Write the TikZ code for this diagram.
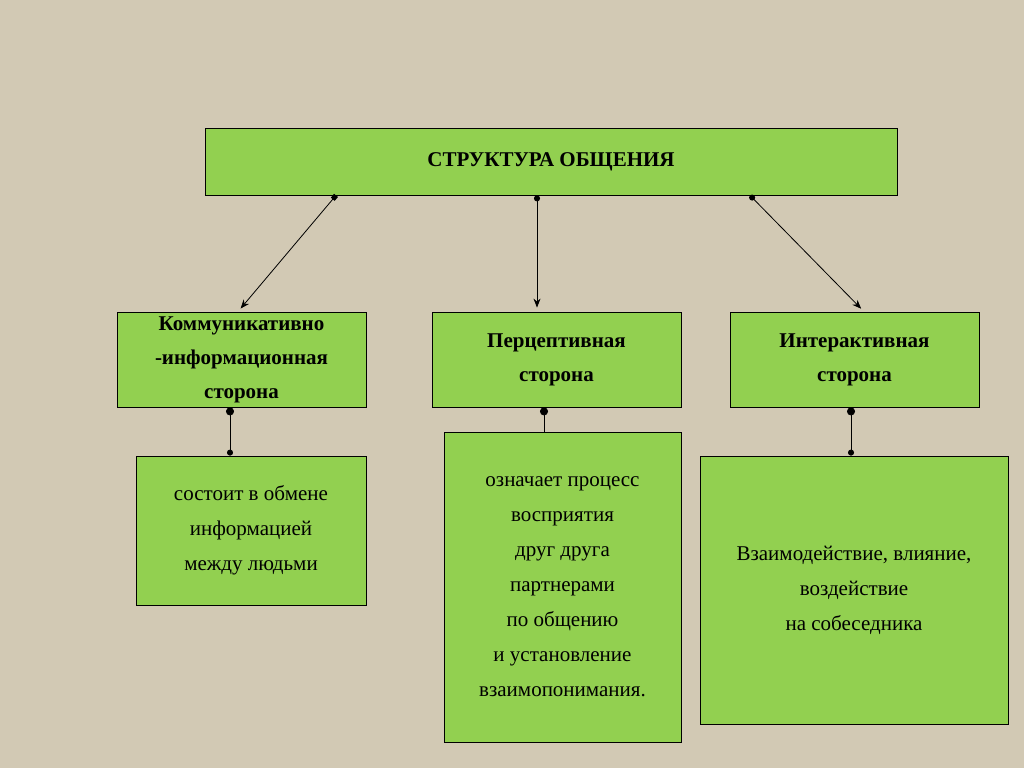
\documentclass[tikz,border=0pt]{standalone}
\usepackage{fontspec}
\setmainfont{Liberation Serif}
\usetikzlibrary{arrows.meta}
\definecolor{boxgreen}{HTML}{92D050}
\definecolor{canvas}{HTML}{D2C9B4}

\begin{document}
\begin{tikzpicture}[x=1pt,y=-1pt]
    \tikzstyle{blk}=[draw,thick,fill=boxgreen,align=center,inner sep=0pt]
    \tikzstyle{head}=[blk,font=\fontsize{21}{34}\selectfont\bfseries]
    \tikzstyle{body}=[blk,font=\fontsize{21}{35}\selectfont]
    \tikzstyle{link}=[thick,{Square[length=5pt,width=5pt]}-{Stealth[length=9pt,width=7pt]},shorten >=4pt]
    \fill[canvas] (0,0) rectangle (1024,768);
    \useasboundingbox (0,0) rectangle (1024,768);
    \node[head,minimum width=692pt,minimum height=67pt] (root) at (551,161.5) {СТРУКТУРА ОБЩЕНИЯ};
    \node[head,minimum width=249pt,minimum height=95pt] (comm) at (241.5,359.5) {Коммуникативно\\-информационная\\сторона};
    \node[head,minimum width=249pt,minimum height=95pt] (perc) at (556.5,359.5) {Перцептивная\\сторона};
    \node[head,minimum width=249pt,minimum height=95pt] (inter) at (854.5,359.5) {Интерактивная\\сторона};
    \node[body,minimum width=230pt,minimum height=149pt] (commtxt) at (251,530.5) {состоит в обмене\\информацией\\между людьми};
    \node[body,minimum width=237pt,minimum height=310pt] (perctxt) at (562.5,587) {означает процесс\\восприятия\\друг друга\\партнерами\\по общению\\и установление\\взаимопонимания.};
    \node[body,minimum width=308pt,minimum height=268pt] (intertxt) at (854,590) {Взаимодействие, влияние,\\воздействие\\на собеседника};

    \draw[link] ([xshift=-215pt]root.south) -- ([xshift=-3.5pt]comm.north);
    \draw[link,{Circle[length=6pt]}-{Stealth[length=9pt,width=7pt]}] ([xshift=-14pt]root.south) -- ([xshift=-19.5pt]perc.north);
    \draw[link,{Circle[length=6pt]}-{Stealth[length=9pt,width=7pt]}] ([xshift=199pt]root.south) -- ([xshift=9.5pt]inter.north);
    % links to the descriptions
    \draw[thick,{Circle[length=8pt]}-{Circle[length=6pt]}] ([xshift=-11.5pt]comm.south) -- ([xshift=-21pt]commtxt.north);
    \draw[thick,{Circle[length=8pt]}-] ([xshift=-12.5pt]perc.south) -- ([xshift=-18.5pt]perctxt.north);
    \draw[thick,{Circle[length=8pt]}-{Circle[length=6pt]}] ([xshift=-3.5pt]inter.south) -- ([xshift=-3pt]intertxt.north);
\end{tikzpicture}
\end{document}
